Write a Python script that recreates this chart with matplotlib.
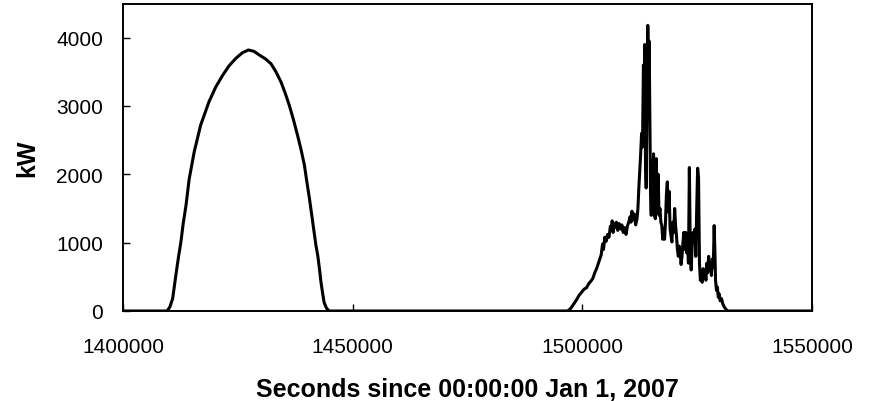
import matplotlib
matplotlib.use("Agg")
import matplotlib.pyplot as plt

plt.rcParams['font.family'] = ['Liberation Sans', 'DejaVu Sans']

# Day 1: smooth clear-sky profile (seconds, kW)
day1_x = [1400000, 1409600, 1410200, 1410800, 1411200, 1411600, 1412100, 1412600,
          1413100, 1413700, 1414400, 1415500, 1416900, 1418700, 1420200, 1421700,
          1423100, 1424600, 1426000, 1427300, 1428500, 1429700, 1431000, 1432200,
          1433300, 1434400, 1435300, 1436200, 1437100, 1438000, 1438800, 1439500,
          1440000, 1440600, 1441100, 1441600, 1442000, 1442400, 1442800, 1443100,
          1443500, 1443800, 1444300, 1444900]
day1_y = [0, 0, 60, 180, 380, 570, 800, 1010,
          1280, 1540, 1930, 2330, 2720, 3060, 3280, 3450,
          3590, 3700, 3780, 3820, 3800, 3745, 3690, 3620,
          3500, 3350, 3190, 3010, 2800, 2570, 2350, 2130,
          1900, 1640, 1400, 1160, 960, 810, 600, 420,
          240, 120, 40, 0]

# Day 2: cloudy, noisy profile (seconds, kW)
day2_x = [1496800, 1497500, 1498200, 1498700, 1499300, 1499800, 1500400, 1500900,
          1501400, 1501900, 1502300, 1502700, 1503100, 1503500, 1503800, 1504100,
          1504400, 1504600, 1504900, 1505200, 1505500, 1505800, 1506100, 1506300,
          1506500, 1506700, 1506900, 1507100, 1507400, 1507700, 1508000, 1508300,
          1508600, 1508900, 1509200, 1509500, 1509800, 1510100, 1510400, 1510600,
          1510800, 1511000, 1511300, 1511600, 1511900, 1512100, 1512300, 1512500,
          1512700, 1512900, 1513100, 1513300, 1513450, 1513600, 1513750, 1513900,
          1514100, 1514250, 1514400, 1514550, 1514700, 1514850, 1515000, 1515200,
          1515350, 1515500, 1515700, 1515900, 1516100, 1516300, 1516500, 1516700,
          1516900, 1517100, 1517300, 1517500, 1517700, 1517900, 1518100, 1518300,
          1518500, 1518700, 1518900, 1519100, 1519300, 1519500, 1519700, 1519900,
          1520100, 1520300, 1520500, 1520700, 1520900, 1521100, 1521300, 1521500,
          1521700, 1521900, 1522100, 1522300, 1522500, 1522700, 1522900, 1523100,
          1523300, 1523400, 1523500, 1523700, 1523900, 1524100, 1524300, 1524500,
          1524700, 1524900, 1525100, 1525300, 1525500, 1525700, 1525900, 1526100,
          1526300, 1526500, 1526700, 1526900, 1527100, 1527300, 1527500, 1527700,
          1527900, 1528100, 1528300, 1528500, 1528700, 1528850, 1529000, 1529200,
          1529400, 1529600, 1529800, 1530000, 1530300, 1530600, 1530900, 1531200,
          1531600, 1550000]
day2_y = [0, 40, 110, 160, 230, 270, 320, 340,
          400, 440, 480, 560, 620, 700, 760, 820,
          980, 900, 1080, 1020, 1120, 1080, 1240, 1180,
          1320, 1150, 1280, 1220, 1300, 1180, 1280, 1200,
          1260, 1150, 1220, 1120, 1240, 1300, 1380, 1300,
          1460, 1340, 1420, 1260, 1350, 1500, 1800, 2050,
          2300, 2600, 2400, 3600, 3100, 3900, 2200, 1800,
          3300, 4180, 3500, 3950, 2800, 1700, 1400, 2200,
          1600, 2300, 1400, 1350, 2230, 1450, 2000, 1400,
          1500, 1300, 1250, 1050, 1200, 1050, 1300, 1700,
          1890, 1450, 1750, 1200, 1100, 1010, 1300, 1150,
          1500, 1250, 1100, 900, 800, 950, 850, 680,
          800, 1000, 1150, 900, 1150, 850, 1000, 700,
          2100, 1500, 900, 600, 950, 1150, 1000, 1200,
          800, 1500, 2090, 1950, 700, 450, 550, 420,
          620, 500, 600, 450, 700, 560, 800, 620,
          700, 520, 760, 640, 1250, 900, 450, 300,
          350, 200, 250, 150, 180, 100, 60, 30,
          0, 0]

x_ticks = [1400000, 1450000, 1500000, 1550000]
y_ticks = [0, 1000, 2000, 3000, 4000]

fig = plt.figure(figsize=(8.75, 4.02), dpi=100)
ax = fig.add_axes([0.1406, 0.2239, 0.7874, 0.7649])

ax.plot(day1_x + day2_x, day1_y + day2_y, color='black', lw=2.2, solid_joinstyle='round')

ax.set_xlim(1400000, 1550000)
ax.set_ylim(0, 4500)
ax.set_xticks(x_ticks)
ax.set_xticklabels([str(v) for v in x_ticks])
ax.set_yticks(y_ticks)
ax.set_yticklabels([str(v) for v in y_ticks])
ax.tick_params(direction='in', length=5, width=1, labelsize=15)
ax.tick_params(axis='x', pad=18.5)
ax.tick_params(axis='y', pad=14.5)
for s in ax.spines.values():
    s.set_linewidth(1.4)

ax.set_xlabel('Seconds since 00:00:00 Jan 1, 2007', fontsize=18, fontweight='bold')
ax.xaxis.set_label_coords(0.5, -0.215)
ax.set_ylabel('kW', fontsize=18, fontweight='bold')
ax.yaxis.set_label_coords(-0.122, 0.5)

fig.savefig('out.png', dpi=100)
